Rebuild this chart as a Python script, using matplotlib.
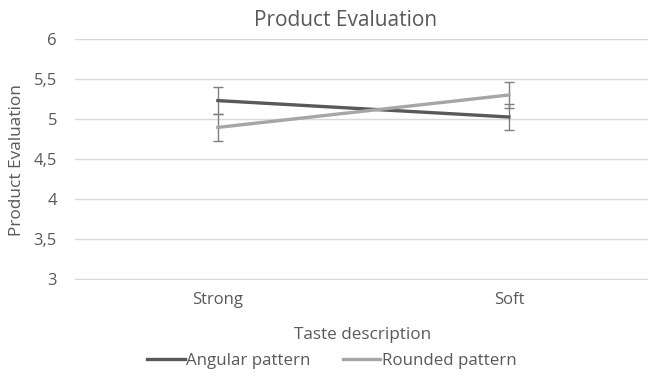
import matplotlib
matplotlib.use("Agg")
import matplotlib.pyplot as plt
from matplotlib.lines import Line2D

categories = ["Strong", "Soft"]
angular = [5.23, 5.025]
angular_err = [0.165, 0.16]
rounded = [4.895, 5.30]
rounded_err = [0.165, 0.165]
yticks = [3, 3.5, 4, 4.5, 5, 5.5, 6]
ytick_labels = ["3", "3,5", "4", "4,5", "5", "5,5", "6"]
series_names = ["Angular pattern", "Rounded pattern"]

plt.rcParams['font.family'] = ['Open Sans', 'DejaVu Sans']
txt = '#595959'
c_ang = '#595959'
c_rnd = '#a6a6a6'

fig = plt.figure(figsize=(6.48, 3.76), dpi=100)
ax = fig.add_axes([75/648, (376-279)/376, (648-75)/648, (279-39)/376])

x = list(range(len(categories)))
ax.errorbar(x, angular, yerr=angular_err, color=c_ang, lw=2.4,
            ecolor='#7f7f7f', elinewidth=1, capsize=3.3, capthick=1, zorder=3)
ax.errorbar(x, rounded, yerr=rounded_err, color=c_rnd, lw=2.4,
            ecolor='#7f7f7f', elinewidth=1, capsize=3.3, capthick=1, zorder=3)

ax.set_xlim(-0.491, 1.478)
ax.set_ylim(3, 6)
ax.set_yticks(yticks)
ax.set_yticklabels(ytick_labels)
ax.set_xticks(x)
ax.set_xticklabels(categories)
ax.yaxis.grid(True, color='#d9d9d9', lw=1)
ax.set_axisbelow(True)
for s in ['top', 'right', 'left']:
    ax.spines[s].set_visible(False)
ax.spines['bottom'].set_color('#d9d9d9')
ax.tick_params(axis='both', length=0, labelsize=12, colors=txt)
ax.tick_params(axis='y', pad=13)
ax.tick_params(axis='x', pad=9)

fig.text(346/648, 1 - 20/376, 'Product Evaluation', ha='center', va='center',
         fontsize=15, color=txt)
fig.text(17/648, 1 - 160/376, 'Product Evaluation', ha='center', va='center',
         rotation=90, fontsize=12.4, color=txt)
fig.text(363/648, 1 - 335/376, 'Taste description', ha='center', va='center',
         fontsize=12.3, color=txt)

handles = [Line2D([], [], color=c_ang, lw=2.4), Line2D([], [], color=c_rnd, lw=2.4)]
fig.legend(handles, series_names, loc='center', bbox_to_anchor=(332/648, 1 - 361/376), ncol=2,
           frameon=False, fontsize=12.2, handlelength=2.2, handletextpad=0.1,
           columnspacing=1.9, labelcolor=txt)

fig.savefig('out.png', dpi=100)
